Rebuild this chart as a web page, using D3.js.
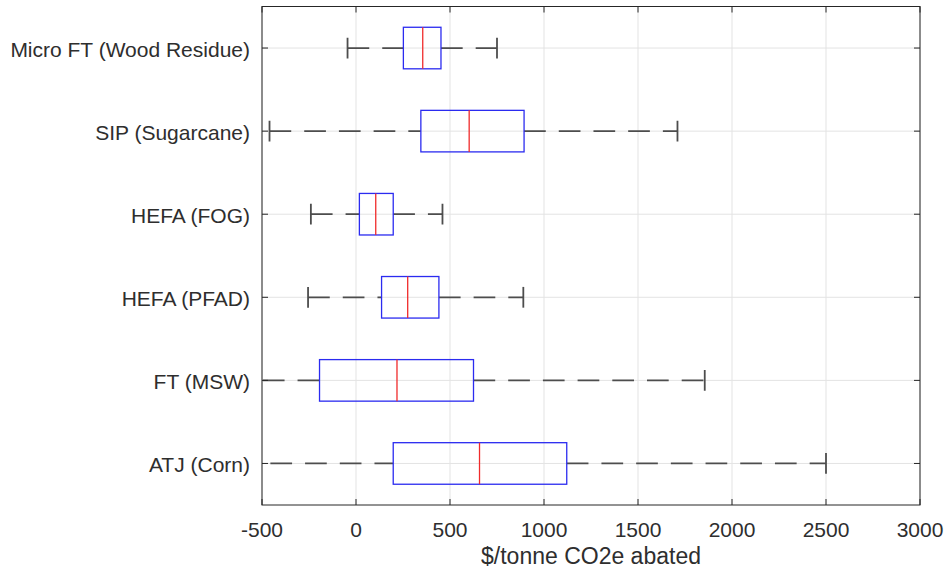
<!DOCTYPE html>
<html lang="en">
<head>
    <meta charset="UTF-8">
    <title>Cost of abatement</title>
    <script src="https://d3js.org/d3.v7.min.js"></script>
</head>

<style type="text/css">
    body {
        margin: 0;
        background-color: white;
    }

    text {
        font-family: "Liberation Sans", Arial, Helvetica, sans-serif;
        fill: #2e2e2e;
    }

    .grid line {
        stroke: #e3e3e3;
        stroke-width: 1;
    }
</style>
<body>
<div id="chart"></div>

<script>
    var width = 948;
    var height = 571;
    // note: "top" is taken by window.top, so use plot* names
    var plotLeft = 262, plotRight = 920, plotTop = 6.5, plotBottom = 505;

    // pathways, top to bottom
    var categories = ["Micro FT (Wood Residue)", "SIP (Sugarcane)", "HEFA (FOG)", "HEFA (PFAD)", "FT (MSW)", "ATJ (Corn)"];
    var lowerWhisker = [-45, -460, -240, -255, -680, -640];
    var q1 = [252, 345, 18, 136, -194, 198];
    var median = [355, 602, 105, 275, 218, 657];
    var q3 = [452, 894, 198, 441, 625, 1121];
    var upperWhisker = [750, 1710, 460, 890, 1855, 2500];

    var xTicks = [-500, 0, 500, 1000, 1500, 2000, 2500, 3000];

    var svg = d3.select("#chart").append("svg")
        .attr("width", width).attr("height", height);

    var x = d3.scaleLinear().domain([-500, 3000]).range([plotLeft, plotRight]);
    var y = d3.scaleBand().domain(categories).range([plotTop, plotBottom]).padding(0);
    var bw = y.bandwidth();

    function cy(i) {
        return y(categories[i]) + bw / 2;
    }

    svg.append("clipPath").attr("id", "clip")
        .append("rect")
        .attr("x", plotLeft).attr("y", plotTop)
        .attr("width", plotRight - plotLeft).attr("height", plotBottom - plotTop);

    // grid
    var grid = svg.append("g").attr("class", "grid");
    grid.selectAll(".vgrid").data(xTicks).enter()
        .append("line")
        .attr("x1", function (d) { return x(d); })
        .attr("x2", function (d) { return x(d); })
        .attr("y1", plotTop).attr("y2", plotBottom);
    grid.selectAll(".hgrid").data(categories).enter()
        .append("line")
        .attr("x1", plotLeft).attr("x2", plotRight)
        .attr("y1", function (d, i) { return cy(i); })
        .attr("y2", function (d, i) { return cy(i); });

    var plot = svg.append("g").attr("clip-path", "url(#clip)");
    var idx = d3.range(categories.length);

    // whiskers (dashed)
    plot.selectAll(".lowWhisker").data(idx).enter()
        .append("line")
        .attr("x1", function (i) { return x(lowerWhisker[i]); })
        .attr("x2", function (i) { return x(q1[i]); })
        .attr("y1", cy).attr("y2", cy)
        .style("stroke", "#4d4d4d")
        .style("stroke-width", 1.8)
        .style("stroke-dasharray", "21.7,13");

    plot.selectAll(".highWhisker").data(idx).enter()
        .append("line")
        .attr("x1", function (i) { return x(q3[i]); })
        .attr("x2", function (i) { return x(upperWhisker[i]); })
        .attr("y1", cy).attr("y2", cy)
        .style("stroke", "#4d4d4d")
        .style("stroke-width", 1.8)
        .style("stroke-dasharray", "21.7,13");

    // caps
    var caps = [];
    idx.forEach(function (i) {
        caps.push({i: i, v: lowerWhisker[i]});
        caps.push({i: i, v: upperWhisker[i]});
    });
    plot.selectAll(".cap").data(caps).enter()
        .append("line")
        .attr("x1", function (d) { return x(d.v); })
        .attr("x2", function (d) { return x(d.v); })
        .attr("y1", function (d) { return cy(d.i) - bw * 0.125; })
        .attr("y2", function (d) { return cy(d.i) + bw * 0.125; })
        .style("stroke", "#4d4d4d")
        .style("stroke-width", 1.8);

    // boxes
    plot.selectAll(".box").data(idx).enter()
        .append("rect")
        .attr("x", function (i) { return x(q1[i]); })
        .attr("y", function (i) { return cy(i) - bw * 0.25; })
        .attr("width", function (i) { return x(q3[i]) - x(q1[i]); })
        .attr("height", bw * 0.5)
        .style("fill", "none")
        .style("stroke", "#2b2bf0")
        .style("stroke-width", 1.3);

    // medians
    plot.selectAll(".median").data(idx).enter()
        .append("line")
        .attr("x1", function (i) { return x(median[i]); })
        .attr("x2", function (i) { return x(median[i]); })
        .attr("y1", function (i) { return cy(i) - bw * 0.25; })
        .attr("y2", function (i) { return cy(i) + bw * 0.25; })
        .style("stroke", "#f02b2b")
        .style("stroke-width", 1.3);

    // axes box with inner ticks
    var ax = svg.append("g");
    ax.append("rect")
        .attr("x", plotLeft).attr("y", plotTop)
        .attr("width", plotRight - plotLeft).attr("height", plotBottom - plotTop)
        .style("fill", "none").style("stroke", "#262626").style("stroke-width", 1);

    var tl = 6;
    xTicks.forEach(function (d) {
        ax.append("line").attr("x1", x(d)).attr("x2", x(d)).attr("y1", plotBottom).attr("y2", plotBottom - tl)
            .style("stroke", "#262626");
        ax.append("line").attr("x1", x(d)).attr("x2", x(d)).attr("y1", plotTop).attr("y2", plotTop + tl)
            .style("stroke", "#262626");
    });
    categories.forEach(function (d, i) {
        ax.append("line").attr("x1", plotLeft).attr("x2", plotLeft + tl).attr("y1", cy(i)).attr("y2", cy(i))
            .style("stroke", "#262626");
        ax.append("line").attr("x1", plotRight).attr("x2", plotRight - tl).attr("y1", cy(i)).attr("y2", cy(i))
            .style("stroke", "#262626");
    });

    // tick labels
    ax.selectAll(".xlab").data(xTicks).enter()
        .append("text")
        .attr("x", function (d) { return x(d); })
        .attr("y", 537)
        .style("text-anchor", "middle")
        .style("font-size", "21px")
        .text(function (d) { return d; });

    ax.selectAll(".ylab").data(categories).enter()
        .append("text")
        .attr("x", 250)
        .attr("y", function (d, i) { return cy(i) + 8.5; })
        .style("text-anchor", "end")
        .style("font-size", "21px")
        .text(function (d) { return d; });

    svg.append("text")
        .attr("x", (plotLeft + plotRight) / 2)
        .attr("y", 564)
        .style("text-anchor", "middle")
        .style("font-size", "23px")
        .text("$/tonne CO2e abated");
</script>

</body>
</html>
